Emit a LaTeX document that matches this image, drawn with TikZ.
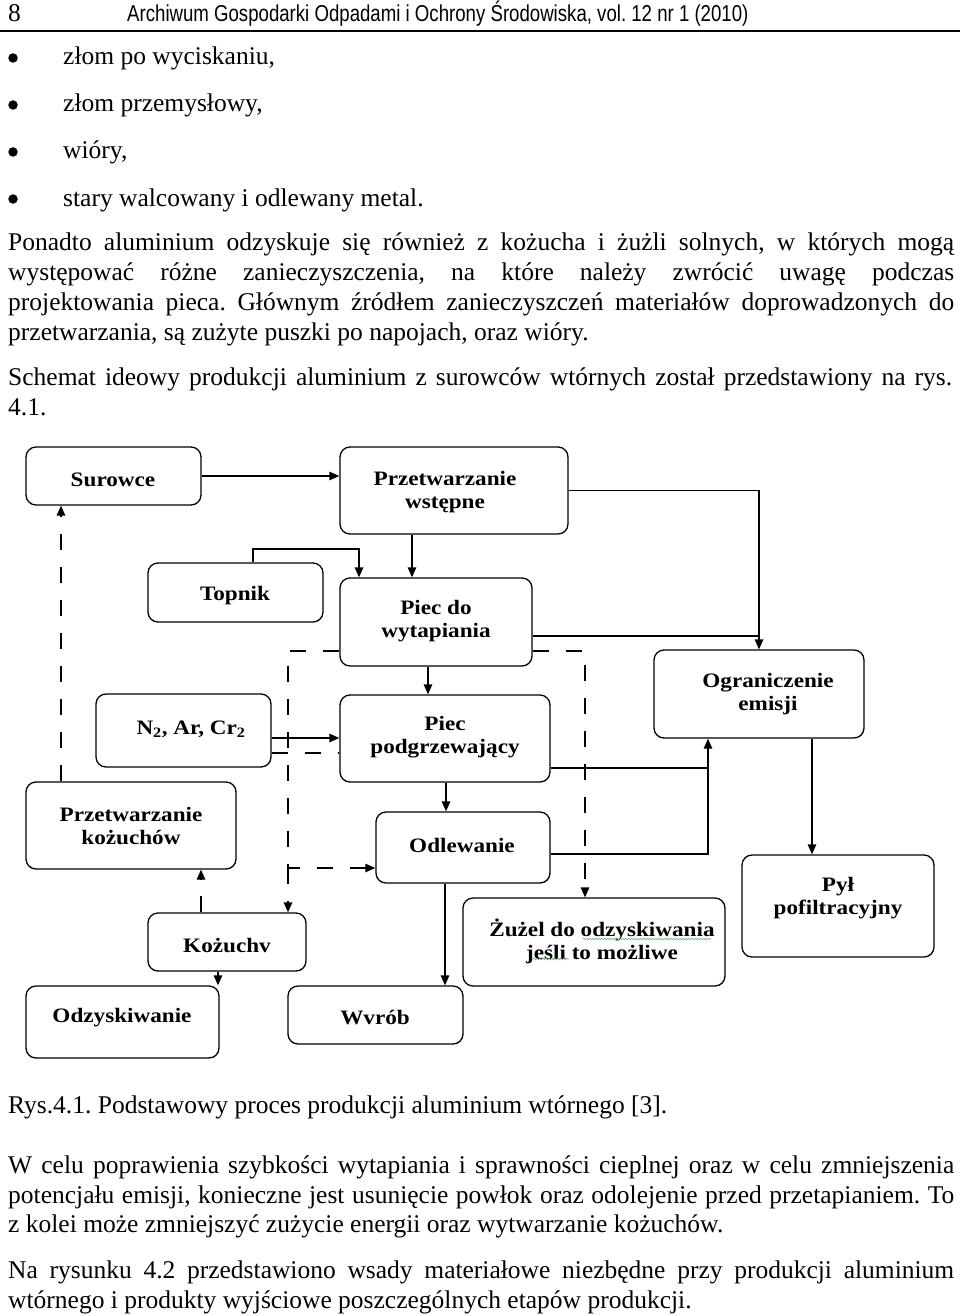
\documentclass[tikz,border=0pt]{standalone}
\usepackage{fontspec}
\setmainfont{Liberation Serif}
\newfontfamily\hdrfont[FakeStretch=0.81]{Liberation Sans}
\newfontfamily\boxfont[FakeStretch=1.13]{Liberation Serif}
\usetikzlibrary{arrows.meta,decorations.pathmorphing}
\definecolor{squig}{RGB}{120,170,120}
\frenchspacing
\begin{document}
\begin{tikzpicture}[x=1pt,y=-1pt,
  box/.style={draw, line width=1.3pt, rounded corners=10pt, inner sep=0pt},
  lbl/.style={font=\boxfont\bfseries\fontsize{20.5}{23}\selectfont, align=center, inner sep=0pt},
  arr/.style={line width=1.3pt, -{Triangle[length=10pt,width=8.5pt]}},
  ln/.style={line width=1.3pt},
  dsh/.style={line width=1.3pt, dash pattern=on 16pt off 17pt},
  txt/.style={font=\fontsize{25.5}{30}\selectfont, inner sep=0pt, anchor=base west},
  dot/.style={circle, fill, inner sep=0pt, minimum size=9.5pt},
  sq/.style={draw=squig, line width=0.6pt, decorate, decoration={snake, amplitude=0.8pt, segment length=3pt}}]
\useasboundingbox[fill=white] (0,0) rectangle (960,1316);

% ---- page header ----
\node[txt] (pnum) at (8,22) {8};
\node[txt, font=\hdrfont\fontsize{23}{28}\selectfont] (hdr) at (127,22) {Archiwum Gospodarki Odpadami i Ochrony Środowiska, vol. 12 nr 1 (2010)};
\draw[line width=2.5pt] (0,31) -- (960,31);

% ---- bullets ----
\node[dot] (b1) at (13,58) {};
\node[txt] (b1t) at (63,65) {złom po wyciskaniu,};
\node[dot] (b2) at (13,105) {};
\node[txt] (b2t) at (63,112) {złom przemysłowy,};
\node[dot] (b3) at (13,152) {};
\node[txt] (b3t) at (63,159) {wióry,};
\node[dot] (b4) at (13,199) {};
\node[txt] (b4t) at (63,206) {stary walcowany i odlewany metal.};

% ---- paragraphs ----
\node[txt] (p1) at (8,250) {\makebox[946pt][s]{Ponadto aluminium odzyskuje się również z kożucha i żużli solnych, w których mogą}};
\node[txt] (p2) at (8,280) {\makebox[946pt][s]{występować różne zanieczyszczenia, na które należy zwrócić uwagę podczas}};
\node[txt] (p3) at (8,310) {\makebox[946pt][s]{projektowania pieca. Głównym źródłem zanieczyszczeń materiałów doprowadzonych do}};
\node[txt] (p4) at (8,340) {przetwarzania, są zużyte puszki po napojach, oraz wióry.};
\node[txt] (p5) at (8,385) {\makebox[944pt][s]{Schemat ideowy produkcji aluminium z surowców wtórnych został przedstawiony na rys.}};
\node[txt] (p6) at (8,415) {4.1.};

\node[txt] (cap) at (8,1113) {Rys.4.1. Podstawowy proces produkcji aluminium wtórnego [3].};
\node[txt] (q1) at (8,1173) {\makebox[946pt][s]{W celu poprawienia szybkości wytapiania i sprawności cieplnej oraz w celu zmniejszenia}};
\node[txt] (q2) at (8,1203) {\makebox[946pt][s]{potencjału emisji, konieczne jest usunięcie powłok oraz odolejenie przed przetapianiem. To}};
\node[txt] (q3) at (8,1232) {z kolei może zmniejszyć zużycie energii oraz wytwarzanie kożuchów.};
\node[txt] (q4) at (8,1278) {\makebox[946pt][s]{Na rysunku 4.2 przedstawiono wsady materiałowe niezbędne przy produkcji aluminium}};
\node[txt] (q5) at (8,1308) {wtórnego i produkty wyjściowe poszczególnych etapów produkcji.};

% ---- diagram boxes ----
\node[box, minimum width=175pt, minimum height=58pt] (sur) at (113.5,476) {};
\node[box, minimum width=228pt, minimum height=87pt] (pw) at (454,490.5) {};
\node[box, minimum width=175pt, minimum height=59pt] (top) at (235.5,592.5) {};
\node[box, minimum width=192pt, minimum height=88pt] (pdw) at (436,622) {};
\node[box, minimum width=175pt, minimum height=73pt] (n2) at (183.5,730.5) {};
\node[box, minimum width=210pt, minimum height=87pt] (pp) at (445,738.5) {};
\node[box, minimum width=174pt, minimum height=71pt] (odl) at (463,847.5) {};
\node[box, minimum width=210pt, minimum height=87pt] (pk) at (131,825.5) {};
\node[box, minimum width=210pt, minimum height=88pt] (ogr) at (759,694) {};
\node[box, minimum width=192pt, minimum height=102pt] (pyl) at (838,906) {};
\node[box, minimum width=158pt, minimum height=58pt] (koz) at (227,942) {};
\node[box, minimum width=262pt, minimum height=88pt] (zuz) at (594,942) {};
\node[box, minimum width=193pt, minimum height=72pt] (odz) at (122.5,1022) {};
\node[box, minimum width=175pt, minimum height=58pt] (wyr) at (375.5,1015) {};

% ---- box labels ----
\node[lbl] (surt) at (113,480) {Surowce};
\node[lbl] (pwt) at (445,492) {Przetwarzanie\\wstępne};
\node[lbl] (topt) at (235,596) {Topnik};
\node[lbl] (pdwt) at (436,621) {Piec do\\wytapiania};
\node[lbl] (n2t) at (191,729) {N\textsubscript{2}, Ar, Cr\textsubscript{2}};
\node[lbl] (ppt) at (445,737) {Piec\\podgrzewający};
\node[lbl] (odlt) at (462,845) {Odlewanie};
\node[lbl] (pkt) at (131,826) {Przetwarzanie\\kożuchów};
\node[lbl] (ogrt) at (768,694) {Ograniczenie\\emisji};
\node[lbl] (pylt) at (838,898) {Pył\\pofiltracyjny};
\node[lbl] (kozt) at (227,946) {Kożuchv};
\node[lbl] (zuzt) at (602,941) {Żużel do odzyskiwania\\jeśli to możliwe};
\node[lbl] (odzt) at (122,1018) {Odzyskiwanie};
\node[lbl] (wyrt) at (375,1018) {Wvrób};

% spell-check squiggles
\draw[sq] (583,939) -- (711,939);
\draw[sq] (533,959) -- (569,959);

% ---- connectors ----
\draw[arr] (sur.east) -- (sur.east -| pw.west);
\draw[arr] (pw.south -| 412,0) -- (pdw.north -| 412,0);
\draw[arr] (top.north -| 253,0) |- (359,549) -- (pdw.north -| 359,0);
\draw[arr] (pw.east) -| (ogr.north);
\draw[ln] (pdw.east |- 0,636) -- (759,636);
\draw[arr] (pdw.south -| 428,0) -- (pp.north -| 428,0);
\draw[arr] (pp.south -| 446,0) -- (odl.north -| 446,0);
\draw[arr] (n2.east |- 0,738) -- (pp.west |- 0,738);
\draw[dsh] (n2.east |- 0,753) -- (pp.west |- 0,753);
\draw[dsh, arr] (pdw.west |- 0,651) -- (288,651) -- (288,868) -- (odl.west |- 0,868);
\draw[dsh, arr] (288,868) -- (koz.north -| 288,0);
\draw[dsh, arr] (pdw.east |- 0,651) -- (585,651) -- (zuz.north -| 585,0);
\draw[ln] (pp.east |- 0,768) -- (708,768);
\draw[arr] (odl.east |- 0,854) -| (ogr.south -| 708,0);
\draw[arr] (ogr.south -| 812,0) -- (pyl.north -| 812,0);
\draw[arr] (odl.south -| 445,0) -- (wyr.north -| 445,0);
\draw[dsh, arr] (koz.north -| 201,0) -- (pk.south -| 201,0);
\draw[arr] (koz.south -| 218,0) -- (odz.north -| 218,0);
\draw[dsh, arr] (pk.north -| 61,0) -- (sur.south -| 61,0);
\end{tikzpicture}
\end{document}
